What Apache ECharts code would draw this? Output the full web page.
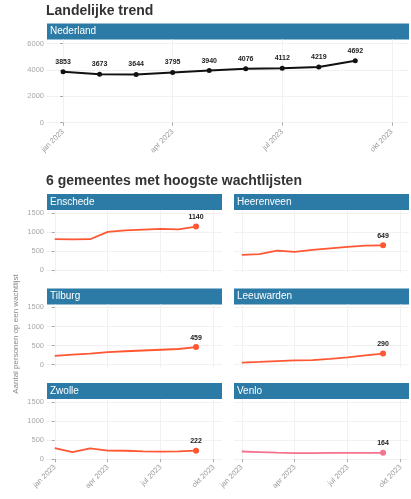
<!DOCTYPE html>
<html>
<head>
<meta charset="utf-8">
<script src="https://cdn.jsdelivr.net/npm/echarts@6/dist/echarts.min.js"></script>
<style>
  html, body { margin: 0; padding: 0; background: #fff; }
  #chart { width: 411px; height: 499px; }
</style>
</head>
<body>
<div id="chart"></div>
<script>
// maanden (index 0 = jan 2023)
const maanden = ['jan', 'feb', 'mrt', 'apr', 'mei', 'jun', 'jul', 'aug', 'sep'];
const xTickValues = [0, 3, 6, 9];
const xTickLabels = ['jan 2023', 'apr 2023', 'jul 2023', 'okt 2023'];
const yTicksTop = [0, 2000, 4000, 6000];
const yTicksGem = [0, 500, 1000, 1500];

// landelijk
const nederland = [3853, 3673, 3644, 3795, 3940, 4076, 4112, 4219, 4692];

// gemeentes
const gemeenten = ['Enschede', 'Heerenveen', 'Tilburg', 'Leeuwarden', 'Zwolle', 'Venlo'];
const enschede = [810, 805, 810, 1000, 1040, 1060, 1080, 1070, 1140];
const heerenveen = [400, 420, 510, 480, 530, 570, 610, 640, 649];
const tilburg = [230, 260, 290, 330, 350, 370, 390, 410, 459];
const leeuwarden = [55, 70, 90, 110, 120, 150, 190, 240, 290];
const zwolle = [290, 185, 280, 225, 220, 205, 195, 205, 222];
const venlo = [200, 185, 170, 160, 160, 162, 163, 163, 164];
const gemData = [enschede, heerenveen, tilburg, leeuwarden, zwolle, venlo];
const gemKleur = ['#ff5733', '#ff5733', '#ff5733', '#ff5733', '#ff5733', '#f4738f'];

const chart = echarts.init(document.getElementById('chart'), null, { renderer: 'canvas' });

const stripColor = '#2b7ba6';
const tickColor = '#a8a8a8';
const gridColor = '#f1f1f1';

// layout
const panels = [
  { left: 47, top: 210, width: 175, height: 63 },
  { left: 234, top: 210, width: 175, height: 63 },
  { left: 47, top: 304.5, width: 175, height: 63 },
  { left: 234, top: 304.5, width: 175, height: 63 },
  { left: 47, top: 399, width: 175, height: 63 },
  { left: 234, top: 399, width: 175, height: 63 }
];

const grids = [{ left: 47, top: 39.5, width: 362, height: 87 }];
panels.forEach(p => grids.push({ left: p.left, top: p.top, width: p.width, height: p.height }));

function xAxisFor(idx, showLabels) {
  return {
    type: 'value',
    gridIndex: idx,
    min: -0.44,
    max: 9.47,
    axisLine: { show: false },
    axisTick: { show: showLabels, length: 3, lineStyle: { color: tickColor }, customValues: xTickValues },
    axisLabel: {
      show: showLabels,
      customValues: xTickValues,
      rotate: 45,
      fontSize: 7.5,
      color: '#9a9a9a',
      fontFamily: 'Liberation Sans',
      margin: 4,
      formatter: v => xTickLabels[xTickValues.indexOf(v)] || ''
    },
    splitLine: { show: true, lineStyle: { color: gridColor, width: 1 } }
  };
}

function yAxisFor(idx, min, max, ticks, showLabels) {
  return {
    type: 'value',
    gridIndex: idx,
    min: min,
    max: max,
    axisLine: { show: false },
    axisTick: { show: showLabels, length: 3, lineStyle: { color: tickColor }, customValues: ticks },
    axisLabel: {
      show: showLabels,
      customValues: ticks,
      fontSize: 7.5,
      color: tickColor,
      fontFamily: 'Liberation Sans',
      margin: 3,
      formatter: v => String(v)
    },
    splitLine: { show: true, lineStyle: { color: gridColor, width: 1 } }
  };
}

const xAxes = [xAxisFor(0, true)];
const yAxes = [yAxisFor(0, -300, 6300, yTicksTop, true)];
panels.forEach((p, i) => {
  xAxes.push(xAxisFor(i + 1, i >= 4));
  yAxes.push(yAxisFor(i + 1, -75, 1575, yTicksGem, i % 2 === 0));
});

const series = [{
  type: 'line',
  xAxisIndex: 0,
  yAxisIndex: 0,
  data: nederland.map((v, i) => [i, v]),
  lineStyle: { color: '#111', width: 2 },
  itemStyle: { color: '#111' },
  symbol: 'circle',
  symbolSize: 5,
  label: {
    show: true,
    position: 'top',
    distance: 4,
    fontSize: 7,
    fontWeight: 'bold',
    color: '#222',
    fontFamily: 'Liberation Sans',
    formatter: p => p.value[1]
  },
  silent: true,
  animation: false
}];

gemData.forEach((arr, g) => {
  const last = arr.length - 1;
  series.push({
    type: 'line',
    name: gemeenten[g],
    xAxisIndex: g + 1,
    yAxisIndex: g + 1,
    data: arr.map((v, i) => i === last
      ? { value: [i, v], symbolSize: 6, label: { show: true } }
      : { value: [i, v] }),
    lineStyle: { color: gemKleur[g], width: 1.8 },
    itemStyle: { color: gemKleur[g] },
    symbol: 'circle',
    symbolSize: 0,
    showAllSymbol: true,
    label: {
      show: false,
      position: 'top',
      distance: 3,
      fontSize: 7,
      fontWeight: 'bold',
      color: '#222',
      fontFamily: 'Liberation Sans',
      formatter: p => p.value[1]
    },
    silent: true,
    animation: false
  });
});

// strips with panel names
const graphics = [];
function strip(x, y, w, text) {
  graphics.push({
    type: 'rect',
    shape: { x: x, y: y, width: w, height: 16 },
    style: { fill: stripColor },
    silent: true
  });
  graphics.push({
    type: 'text',
    x: x + 3,
    y: y + 8,
    style: {
      text: text,
      fill: '#fff',
      font: '10px "Liberation Sans"',
      verticalAlign: 'middle'
    },
    silent: true
  });
}
strip(47, 23.5, 362, 'Nederland');
panels.forEach((p, i) => strip(p.left, p.top - 16, p.width, gemeenten[i]));

graphics.push({
  type: 'text',
  x: 16,
  y: 334,
  rotation: Math.PI / 2,
  style: {
    text: 'Aantal personen op een wachtlijst',
    fill: '#888',
    font: '8px "Liberation Sans"',
    align: 'center',
    verticalAlign: 'middle'
  },
  silent: true
});

chart.setOption({
  backgroundColor: '#fff',
  animation: false,
  title: [
    {
      text: 'Landelijke trend',
      left: 46,
      top: 4,
      padding: 0,
      textStyle: { fontSize: 14, fontWeight: 'bold', color: '#333', fontFamily: 'Liberation Sans' }
    },
    {
      text: '6 gemeentes met hoogste wachtlijsten',
      left: 46,
      top: 174,
      padding: 0,
      textStyle: { fontSize: 14, fontWeight: 'bold', color: '#333', fontFamily: 'Liberation Sans' }
    }
  ],
  grid: grids,
  xAxis: xAxes,
  yAxis: yAxes,
  series: series,
  graphic: graphics
});
</script>
</body>
</html>
